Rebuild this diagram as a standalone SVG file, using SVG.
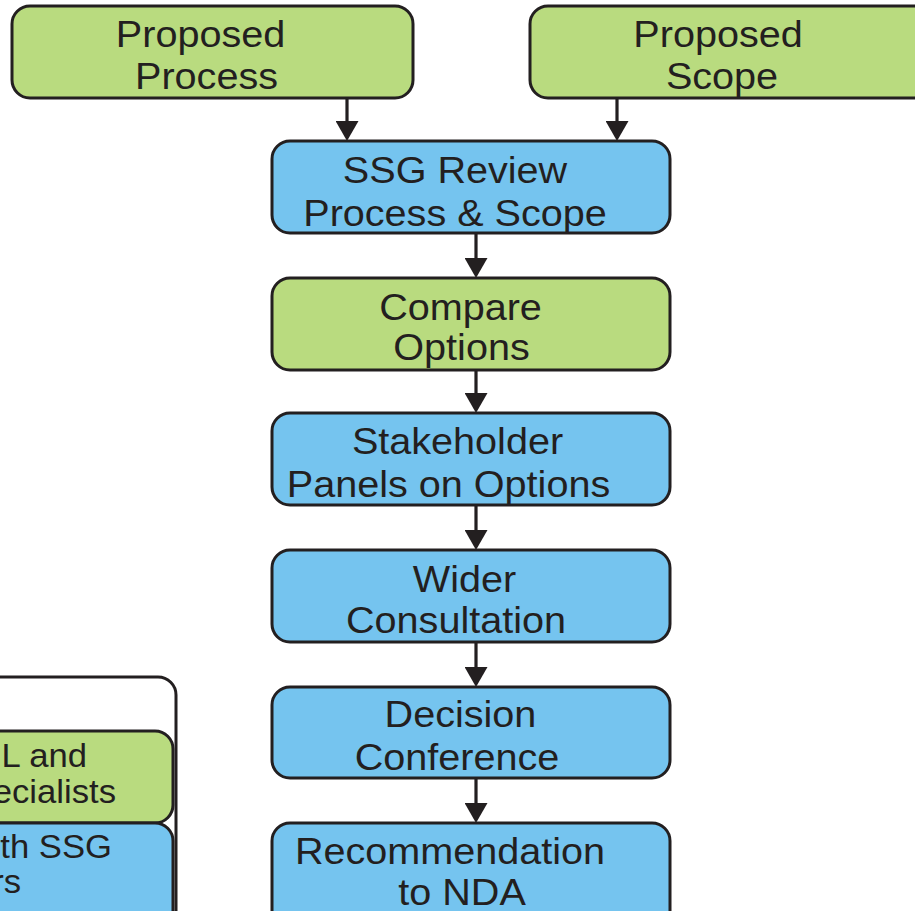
<svg xmlns="http://www.w3.org/2000/svg" width="915" height="911" viewBox="0 0 915 911">
<defs>
<style>
.g{fill:#b9db7f;stroke:#231f20;stroke-width:3}
.b{fill:#75c4ef;stroke:#231f20;stroke-width:3}
.w{fill:#ffffff;stroke:#231f20;stroke-width:3}
.t{font-family:"Liberation Sans",Arial,Helvetica,sans-serif;font-size:37.7px;fill:#231f20;text-anchor:middle}
.te{font-family:"Liberation Sans",Arial,Helvetica,sans-serif;font-size:33px;fill:#231f20;text-anchor:end}
.c{stroke:#231f20;stroke-width:3.2;fill:none}
</style>
<marker id="ah" viewBox="0 0 20 23" refX="15" refY="11.5" markerWidth="20" markerHeight="23" markerUnits="userSpaceOnUse" orient="auto">
<path d="M0,0 L20,11.5 L0,23 Z" fill="#231f20"/>
</marker>
</defs>
<rect width="915" height="911" fill="#ffffff"/>

<g id="legend">
<rect class="w" x="-60" y="677" width="236" height="260" rx="18"/>
<g id="legend-green">
<rect class="g" x="-60" y="731" width="233" height="92" rx="18"/>
<text class="te" transform="translate(87,767) scale(1.05,1)">L and</text>
<text class="te" transform="translate(116,803) scale(1.05,1)">ecialists</text>
</g>
<g id="legend-blue">
<rect class="b" x="-60" y="823" width="233" height="110" rx="18"/>
<text class="te" transform="translate(112,858) scale(1.05,1)">th SSG</text>
<text class="te" transform="translate(21,893) scale(1.05,1)">rs</text>
</g>
</g>

<g id="connectors">
<line class="c" x1="347" y1="98" x2="347" y2="136" marker-end="url(#ah)"/>
<line class="c" x1="617" y1="98" x2="617" y2="136" marker-end="url(#ah)"/>
<line class="c" x1="476" y1="233" x2="476" y2="273" marker-end="url(#ah)"/>
<line class="c" x1="476" y1="370" x2="476" y2="408" marker-end="url(#ah)"/>
<line class="c" x1="476" y1="505" x2="476" y2="545" marker-end="url(#ah)"/>
<line class="c" x1="476" y1="642" x2="476" y2="682" marker-end="url(#ah)"/>
<line class="c" x1="476" y1="778" x2="476" y2="818" marker-end="url(#ah)"/>
</g>

<g id="proposed-process">
<rect class="g" x="12" y="6" width="401" height="92" rx="18"/>
<text class="t" transform="translate(200.5,47) scale(1.05,1)">Proposed</text>
<text class="t" transform="translate(206.5,89) scale(1.05,1)">Process</text>
</g>

<g id="proposed-scope">
<rect class="g" x="530" y="6" width="410" height="92" rx="18"/>
<text class="t" transform="translate(718,47) scale(1.05,1)">Proposed</text>
<text class="t" transform="translate(722,89) scale(1.05,1)">Scope</text>
</g>

<g id="ssg-review">
<rect class="b" x="272" y="141" width="398" height="92" rx="18"/>
<text class="t" transform="translate(455,183) scale(1.05,1)">SSG Review</text>
<text class="t" transform="translate(455,226) scale(1.05,1)">Process &amp; Scope</text>
</g>

<g id="compare-options">
<rect class="g" x="272" y="278" width="398" height="92" rx="18"/>
<text class="t" transform="translate(460.5,320) scale(1.05,1)">Compare</text>
<text class="t" transform="translate(461.5,360) scale(1.05,1)">Options</text>
</g>

<g id="stakeholder-panels">
<rect class="b" x="272" y="413" width="398" height="92" rx="18"/>
<text class="t" transform="translate(457.5,454) scale(1.05,1)">Stakeholder</text>
<text class="t" transform="translate(448.5,497) scale(1.05,1)">Panels on Options</text>
</g>

<g id="wider-consultation">
<rect class="b" x="272" y="550" width="398" height="92" rx="18"/>
<text class="t" transform="translate(464.5,592) scale(1.05,1)">Wider</text>
<text class="t" transform="translate(456,633) scale(1.05,1)">Consultation</text>
</g>

<g id="decision-conference">
<rect class="b" x="272" y="687" width="398" height="91" rx="18"/>
<text class="t" transform="translate(460.5,727) scale(1.05,1)">Decision</text>
<text class="t" transform="translate(457,770) scale(1.05,1)">Conference</text>
</g>

<g id="recommendation">
<rect class="b" x="272" y="823" width="398" height="110" rx="18"/>
<text class="t" transform="translate(450,864) scale(1.05,1)">Recommendation</text>
<text class="t" transform="translate(462,905) scale(1.05,1)">to NDA</text>
</g>
</svg>
